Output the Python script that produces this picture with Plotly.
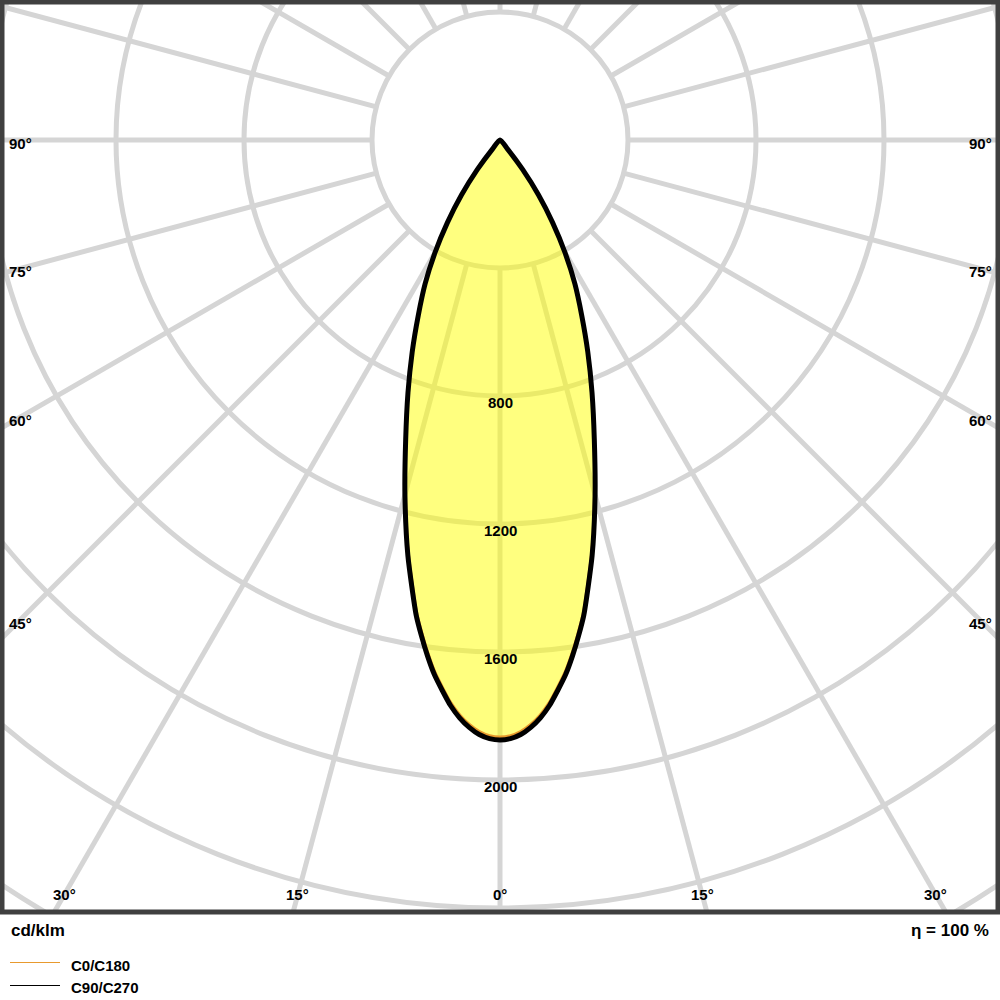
import numpy as np
import plotly.graph_objects as go

# ---- data (cd/klm) ----
gamma_deg = [0, 1, 2, 3, 4, 5, 6, 7, 8, 9, 10, 12.5, 15, 17.5, 20, 22.5, 25, 27.5, 30, 32.5, 35, 37.5, 40, 42.5]
c90_c270 = [1875, 1871, 1859, 1838, 1810, 1774, 1729, 1683, 1628, 1569, 1508, 1330, 1148, 980, 841, 717, 604, 507, 406, 306, 210, 116, 35, 0]
c0_c180 = [1866, 1862, 1850, 1829, 1801, 1765, 1720, 1674, 1619, 1560, 1500, 1323, 1142, 977, 840, 717, 604, 507, 406, 306, 210, 116, 35, 0]
series_names = ["C0/C180", "C90/C270"]
series_colors = ["#E89A2E", "#000000"]

radial_grid = [400, 800, 1200, 1600, 2000, 2400, 2800, 3200]
radial_labels = [800, 1200, 1600, 2000]
angle_grid = list(range(0, 360, 15))
side_angle_labels = [45, 60, 75, 90]
bottom_angle_labels = [0, 15, 30]
unit_text = "cd/klm"
eta_text = "η = 100 %"

# ---- geometry of the drawing area (axis units = cd/klm) ----
X_RANGE = [-1556.25, 1556.25]
Y_RANGE = [-2412.5, 431.25]
SIDE_LABEL_X = 1500
BOTTOM_LABEL_Y = -2359


def to_xy(angles, values):
    a = np.radians(np.asarray(angles, dtype=float))
    r = np.asarray(values, dtype=float)
    return r * np.sin(a), -r * np.cos(a)


def closed_curve(values):
    ang = [-g for g in gamma_deg[::-1]] + gamma_deg[1:]
    val = list(values[::-1]) + list(values[1:])
    return to_xy(ang, val)


fig = go.Figure()

shapes = []
grid_col = "rgb(213,213,213)"
for r in radial_grid:
    shapes.append(dict(type="circle", xref="x", yref="y", x0=-r, x1=r, y0=-r, y1=r,
                       line=dict(color=grid_col, width=5), layer="below"))
for a in angle_grid:
    (x0, x1), (y0, y1) = to_xy([a, a], [radial_grid[0], radial_grid[-1] * 1.2])
    shapes.append(dict(type="line", xref="x", yref="y", x0=x0, x1=x1, y0=y0, y1=y1,
                       line=dict(color=grid_col, width=5), layer="below"))

# border
shapes.append(dict(type="rect", xref="paper", yref="paper", x0=0, x1=1, y0=0, y1=1,
                   line=dict(color="#404040", width=5), layer="above"))

LINE_SHAPE = dict(shape="spline", smoothing=0.6)

# filled area
fx, fy = closed_curve(c90_c270)
fig.add_trace(go.Scatter(x=fx, y=fy, mode="lines", fill="toself",
                         fillcolor="rgba(255,255,0,0.5)", line=dict(width=0, **LINE_SHAPE),
                         showlegend=False, hoverinfo="skip"))
for vals, name, col, w in [(c0_c180, series_names[0], series_colors[0], 3),
                           (c90_c270, series_names[1], series_colors[1], 5)]:
    x, y = closed_curve(vals)
    fig.add_trace(go.Scatter(x=x, y=y, mode="lines", name=name,
                             line=dict(color=col, width=w, **LINE_SHAPE),
                             showlegend=False))

FONT = "Liberation Sans"
ann = []
for v in radial_labels:
    ann.append(dict(x=0, y=-v, xref="x", yref="y", text=f"<b>{v}</b>", showarrow=False,
                    yshift=-6, font=dict(family=FONT, size=15, color="black")))
for a in side_angle_labels:
    yv = -SIDE_LABEL_X / np.tan(np.radians(a)) if a != 90 else 0.0
    for sgn in (-1, 1):
        ann.append(dict(x=sgn * SIDE_LABEL_X, y=yv, xref="x", yref="y", text=f"<b>{a}°</b>",
                        showarrow=False, yshift=-3, font=dict(family=FONT, size=15, color="black")))
for a in bottom_angle_labels:
    xv = -BOTTOM_LABEL_Y * np.tan(np.radians(a))
    for sgn in ((1,) if a == 0 else (-1, 1)):
        ann.append(dict(x=sgn * xv, y=BOTTOM_LABEL_Y, xref="x", yref="y", text=f"<b>{a}°</b>",
                        showarrow=False, font=dict(family=FONT, size=15, color="black")))


def px(p):
    return (p - 2) / 996


def py(p):
    return (912 - p) / 910


ann.append(dict(x=px(9), y=py(931), xref="paper", yref="paper", text=f"<b>{unit_text}</b>",
                xanchor="left", yanchor="middle", showarrow=False,
                font=dict(family=FONT, size=17, color="black")))
ann.append(dict(x=px(991), y=py(931), xref="paper", yref="paper", text=f"<b>{eta_text}</b>",
                xanchor="right", yanchor="middle", showarrow=False,
                font=dict(family=FONT, size=17, color="black")))
for i, (yy, name, col) in enumerate(zip([962, 985], series_names, series_colors)):
    shapes.append(dict(type="line", xref="paper", yref="paper", x0=px(10), x1=px(60),
                       y0=py(yy + 0.5), y1=py(yy + 0.5), line=dict(color=col, width=1)))
    ann.append(dict(x=px(69), y=py(yy + 3), xref="paper", yref="paper", text=f"<b>{name}</b>",
                    xanchor="left", yanchor="middle", showarrow=False,
                    font=dict(family=FONT, size=15, color="black")))

fig.update_layout(
    width=1000, height=1000,
    margin=dict(l=2, r=2, t=2, b=88),
    paper_bgcolor="white", plot_bgcolor="white",
    xaxis=dict(range=X_RANGE, visible=False, showgrid=False, zeroline=False, fixedrange=True),
    yaxis=dict(range=Y_RANGE, visible=False, showgrid=False, zeroline=False, fixedrange=True),
    shapes=shapes, annotations=ann, showlegend=False,
)

fig.write_html("out.html", config={"displayModeBar": False},
               post_script="document.body.style.margin='0';document.body.style.overflow='hidden';")
